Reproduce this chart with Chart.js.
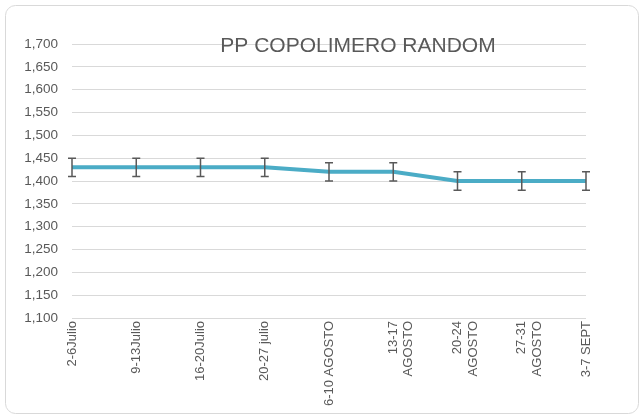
<!DOCTYPE html>
<html>
<head>
<meta charset="utf-8">
<script src="https://cdn.jsdelivr.net/npm/chart.js@4.4.0/dist/chart.umd.min.js"></script>
<style>
  html, body { margin: 0; padding: 0; background: #fff; }
  #wrap { width: 644px; height: 417px; position: relative; }
</style>
</head>
<body>
<div id="wrap"><canvas id="grafico" width="644" height="417"></canvas></div>
<script>
// datos
const semanas = ['2-6Julio', '9-13Julio', '16-20Julio', '20-27 julio', '6-10 AGOSTO',
  ['13-17', 'AGOSTO'], ['20-24', 'AGOSTO'], ['27-31', 'AGOSTO'], '3-7 SEPT'];
const precios = [1430, 1430, 1430, 1430, 1420, 1420, 1400, 1400, 1400];
const errores = [20, 20, 20, 20, 20, 20, 20, 20, 20];
const titulo = 'PP COPOLIMERO RANDOM';

const gris = '#595959';
const fuente = '"Liberation Sans", Arial, sans-serif';

// barras de error dibujadas con las escalas del grafico
const barrasError = {
  id: 'barrasError',
  afterDatasetsDraw(chart) {
    const ctx = chart.ctx;
    const y = chart.scales.y;
    const meta = chart.getDatasetMeta(0);
    ctx.save();
    ctx.strokeStyle = gris;
    ctx.lineWidth = 1.5;
    meta.data.forEach((pt, i) => {
      const top = y.getPixelForValue(precios[i] + errores[i]);
      const bot = y.getPixelForValue(precios[i] - errores[i]);
      ctx.beginPath();
      ctx.moveTo(pt.x, top); ctx.lineTo(pt.x, bot);
      ctx.moveTo(pt.x - 4, top); ctx.lineTo(pt.x + 4, top);
      ctx.moveTo(pt.x - 4, bot); ctx.lineTo(pt.x + 4, bot);
      ctx.stroke();
    });
    ctx.restore();
  }
};

// titulo encima de la cuadricula y marco redondeado
const tituloMarco = {
  id: 'tituloMarco',
  afterDraw(chart) {
    const ctx = chart.ctx;
    ctx.save();
    ctx.font = '21px ' + fuente;
    ctx.fillStyle = gris;
    ctx.textAlign = 'center';
    ctx.textBaseline = 'middle';
    ctx.fillText(titulo, 358, 46);
    ctx.strokeStyle = '#d9d9d9';
    ctx.lineWidth = 1;
    ctx.beginPath();
    ctx.roundRect(5.5, 5.5, 633, 408, 10);
    ctx.stroke();
    ctx.restore();
  }
};

new Chart(document.getElementById('grafico'), {
  type: 'line',
  data: {
    labels: semanas,
    datasets: [{
      data: precios,
      borderColor: '#4BACC6',
      borderWidth: 4,
      pointRadius: 0,
      tension: 0,
      fill: false
    }]
  },
  options: {
    responsive: false,
    animation: false,
    layout: { padding: { top: 44, right: 58, left: 0, bottom: 0 } },
    plugins: { legend: { display: false }, tooltip: { enabled: false }, title: { display: false } },
    scales: {
      x: {
        offset: false,
        grid: { display: false, drawTicks: false },
        border: { display: false },
        ticks: {
          color: gris, padding: 3, autoSkip: false,
          minRotation: 90, maxRotation: 90,
          font: { family: fuente, size: 13 }
        },
        afterFit(s) { s.height = 99; }
      },
      y: {
        min: 1100, max: 1700,
        grid: { color: '#d9d9d9', lineWidth: 1, drawTicks: false },
        border: { display: false },
        ticks: {
          stepSize: 50, color: gris, padding: 14,
          font: { family: fuente, size: 13.5 },
          callback: v => v.toLocaleString('en-US')
        },
        afterFit(s) { s.width = 72; }
      }
    }
  },
  plugins: [barrasError, tituloMarco]
});
</script>
</body>
</html>
